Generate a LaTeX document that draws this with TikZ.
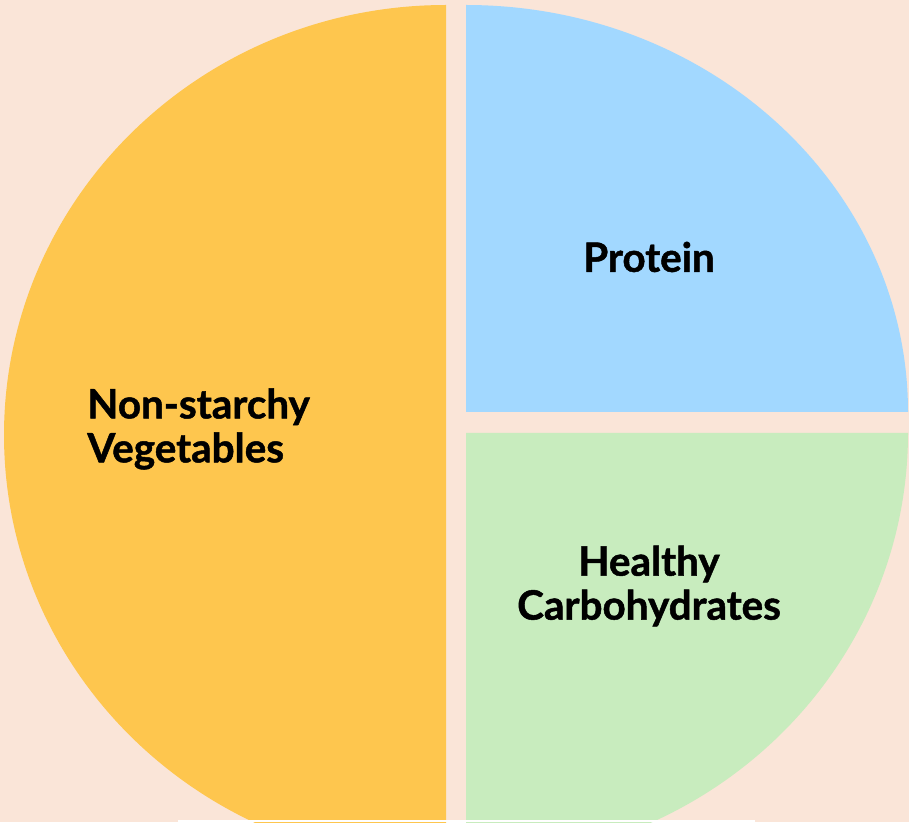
\documentclass[tikz,border=0pt]{standalone}
\usepackage{fontspec}
\setmainfont{Lato}[BoldFeatures={FakeBold=1.2}]
\usepackage{tikz}
\usetikzlibrary{positioning}
\definecolor{PlatePeach}{RGB}{250,229,216}
\definecolor{VegYellow}{RGB}{254,198,78}
\definecolor{ProtBlue}{RGB}{162,216,255}
\definecolor{CarbGreen}{RGB}{200,236,190}
\tikzset{
	slice/.style={draw=none},
	food/.style={font=\bfseries\fontsize{23}{25}\selectfont,text=black,inner sep=0pt},
}

\begin{document}
\begin{tikzpicture}[x=0.02cm,y=0.02cm]
	\fill[PlatePeach] (0,0) rectangle (909,822);
	\useasboundingbox (0,0) rectangle (909,822);
	\clip (0,0) rectangle (909,822);
	% plate slices
	\coordinate (veg) at (446,387);
	\coordinate (prot) at (466,410);
	\coordinate (carb) at (466,389);
	\fill[slice,VegYellow] (veg) -- ++(0,430) arc[start angle=90,end angle=270,x radius=442,y radius=430] -- cycle;
	\fill[slice,ProtBlue] (prot) -- ++(442,0) arc[start angle=0,end angle=90,x radius=442,y radius=407] -- cycle;
	\fill[slice,CarbGreen] (carb) -- ++(0,-429) arc[start angle=270,end angle=360,x radius=442,y radius=429] -- cycle;
	\fill[white] (178,0) rectangle (755,2);
	% labels
	\node[food,anchor=west,align=left] (veglab) at (87,393) {Non-starchy\\Vegetables};
	\node[food] (protlab) at (649,565) {Protein};
	\node[food,align=center] (carblab) at (649,236) {Healthy\\Carbohydrates};
\end{tikzpicture}
\end{document}
